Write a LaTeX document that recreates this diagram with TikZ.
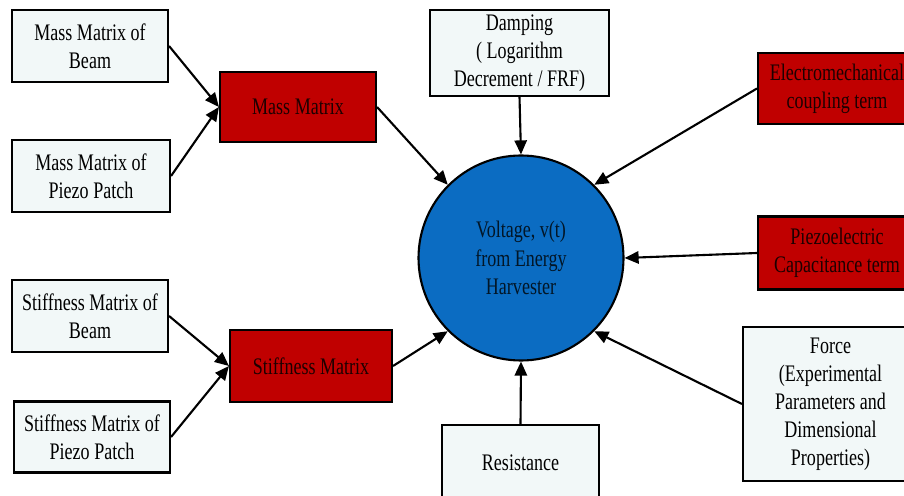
\documentclass[tikz,border=0pt]{standalone}
\usepackage{fontspec}
\setmainfont{Liberation Serif}[FakeStretch=0.76]
\usepackage{xcolor}
\usepackage{tikz}
\usetikzlibrary{shapes,arrows.meta,positioning,calc}

\definecolor{boxpale}{HTML}{F2F8F8}
\definecolor{boxred}{HTML}{C00000}
\definecolor{voltblue}{HTML}{0B6CC2}

\begin{document}
\begin{tikzpicture}[
    inbox/.style={draw=black, line width=1.2pt, fill=boxpale, align=center,
        font=\fontsize{13.5}{16}\selectfont, inner sep=2pt},
    redbox/.style={inbox, fill=boxred, text=black!85!boxred},
    feed/.style={line width=1.2pt, -{Triangle[length=8pt,width=7pt]}}
]
    \useasboundingbox (0,0) rectangle (18.08,9.9);
    \clip (0,0) rectangle (18.08,9.9);

    % Mass branch
    \node[inbox, minimum width=3.12cm, minimum height=1.44cm] (mmbeam) at (1.80, 8.98) {Mass Matrix of\\Beam};
    \node[inbox, minimum width=3.16cm, minimum height=1.44cm] (mmpiezo) at (1.82, 6.38) {Mass Matrix of\\Piezo Patch};
    \node[redbox, minimum width=3.12cm, minimum height=1.40cm] (mass) at (5.96, 7.76) {Mass Matrix};

    % Stiffness branch
    \node[inbox, minimum width=3.12cm, minimum height=1.44cm] (smbeam) at (1.80, 3.58) {Stiffness Matrix of\\Beam};
    \node[inbox, minimum width=3.12cm, minimum height=1.42cm] (smpiezo) at (1.84, 1.16) {Stiffness Matrix of\\Piezo Patch};
    \node[redbox, minimum width=3.24cm, minimum height=1.44cm] (stiff) at (6.22, 2.58) {Stiffness Matrix};

    % Output
    \node[circle, draw=black, line width=1.2pt, fill=voltblue, minimum size=4.1cm,
        align=center, font=\fontsize{13.5}{16}\selectfont, text=black!80!voltblue] (volt) at (10.42, 4.74)
        {Voltage, v(t)\\from Energy\\Harvester};

    % Other inputs
    \node[inbox, minimum width=3.58cm, minimum height=1.72cm] (damp) at (10.39, 8.84) {Damping\\( Logarithm\\Decrement / FRF)};
    \node[redbox, minimum width=3.16cm, minimum height=1.42cm] (elec) at (16.74, 8.13) {Electromechanical\\coupling term};
    \node[redbox, minimum width=3.16cm, minimum height=1.46cm] (piezo) at (16.74, 4.84) {Piezoelectric\\Capacitance term};
    \node[inbox, minimum width=3.50cm, minimum height=3.08cm] (force) at (16.61, 1.82) {Force\\(Experimental\\Parameters and\\Dimensional\\Properties)};
    \node[inbox, minimum width=3.14cm, minimum height=1.52cm] (res) at (10.41, 0.64) {Resistance};

    % Connectors
    \draw[feed] (mmbeam.east) -- (mass.west);
    \draw[feed] (mmpiezo.east) -- (mass.west);
    \draw[feed] (smbeam.east) -- (stiff.west);
    \draw[feed] (smpiezo.east) -- (stiff.west);
    \draw[feed] (mass.east) -- (volt.135);
    \draw[feed] (stiff.east) -- (volt.-135);
    \draw[feed] (damp.south) -- (volt.north);
    \draw[feed] (res.north) -- (volt.south);
    \draw[feed] (elec.west) -- (volt.45);
    \draw[feed] (piezo.west) -- (volt.east);
    \draw[feed] (force.west) -- (volt.-45);
\end{tikzpicture}
\end{document}
